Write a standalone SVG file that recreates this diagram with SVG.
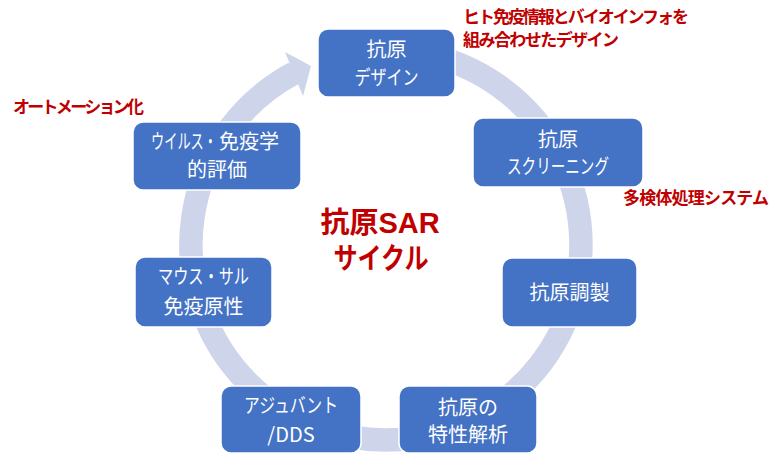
<svg xmlns="http://www.w3.org/2000/svg" width="782" height="468" viewBox="0 0 782 468">
<style>
.node rect{fill:#4472C4;stroke:#FFFFFF;stroke-width:1.5}
.nt{font-family:"Noto Sans CJK JP","Noto Sans",sans-serif;font-size:20px;fill:#FFFFFF;text-anchor:middle}
.st{text-anchor:start}
.ann{font-family:"Noto Sans CJK JP","Noto Sans",sans-serif;font-size:17px;font-weight:bold;fill:#C00000}
.ctr{font-family:"Liberation Sans","Noto Sans CJK JP",sans-serif;font-size:29px;font-weight:bold;fill:#C00000;text-anchor:middle}
.band{fill:none;stroke:#CED4EA;stroke-width:23.5;stroke-linecap:butt}
</style>
<rect width="782" height="468" fill="#FFFFFF"/>
<g id="connectors">
<path class="band" d="M 419.86 53.0 A 195 195 0 1 1 294.45 72.82"/>
<polygon points="285,52 311,66 303,96" fill="#CED4EA"/>
</g>
<g id="node-design" class="node">
<rect x="318" y="29" width="137" height="68" rx="10"/>
<text class="nt" x="386.5" y="57">抗原</text>
<text class="nt" x="386.5" y="85" textLength="64" lengthAdjust="spacingAndGlyphs">デザイン</text>
</g>
<g id="node-screening" class="node">
<rect x="473" y="118" width="170" height="69" rx="10"/>
<text class="nt" x="558" y="147">抗原</text>
<text class="nt" x="558" y="174" textLength="102" lengthAdjust="spacingAndGlyphs">スクリーニング</text>
</g>
<g id="node-prep" class="node">
<rect x="502" y="258" width="135" height="69" rx="10"/>
<text class="nt" x="569.5" y="300">抗原調製</text>
</g>
<g id="node-analysis" class="node">
<rect x="399" y="386" width="138" height="67" rx="10"/>
<text class="nt" x="468" y="415">抗原の</text>
<text class="nt" x="468" y="442">特性解析</text>
</g>
<g id="node-adjuvant" class="node">
<rect x="221" y="386" width="140" height="67" rx="10"/>
<text class="nt" x="291" y="413" textLength="94" lengthAdjust="spacingAndGlyphs">アジュバント</text>
<text class="nt" x="291" y="442">/DDS</text>
</g>
<g id="node-immunogenicity" class="node">
<rect x="135" y="257" width="137" height="70" rx="10"/>
<text class="nt" x="203.5" y="284" textLength="91" lengthAdjust="spacingAndGlyphs">マウス・サル</text>
<text class="nt" x="203.5" y="314">免疫原性</text>
</g>
<g id="node-evaluation" class="node">
<rect x="133" y="122" width="168" height="68" rx="10"/>
<text class="nt st" transform="translate(151 149) scale(0.66 1)">ウイルス・</text>
<text class="nt st" x="219" y="149">免疫学</text>
<text class="nt" x="217" y="177">的評価</text>
</g>
<g id="center-label">
<text class="ctr"><tspan x="380" y="233">抗原SAR</tspan><tspan x="381" y="269" textLength="95" lengthAdjust="spacingAndGlyphs">サイクル</tspan></text>
</g>
<g id="annotations">
<text class="ann" x="463" y="23" textLength="226" lengthAdjust="spacing">ヒト免疫情報とバイオインフォを</text>
<text class="ann" x="463" y="46" textLength="156" lengthAdjust="spacing">組み合わせたデザイン</text>
<text class="ann" x="13" y="113" textLength="131" lengthAdjust="spacing">オートメーション化</text>
<text class="ann" x="623" y="204" textLength="146" lengthAdjust="spacing">多検体処理システム</text>
</g>
</svg>
